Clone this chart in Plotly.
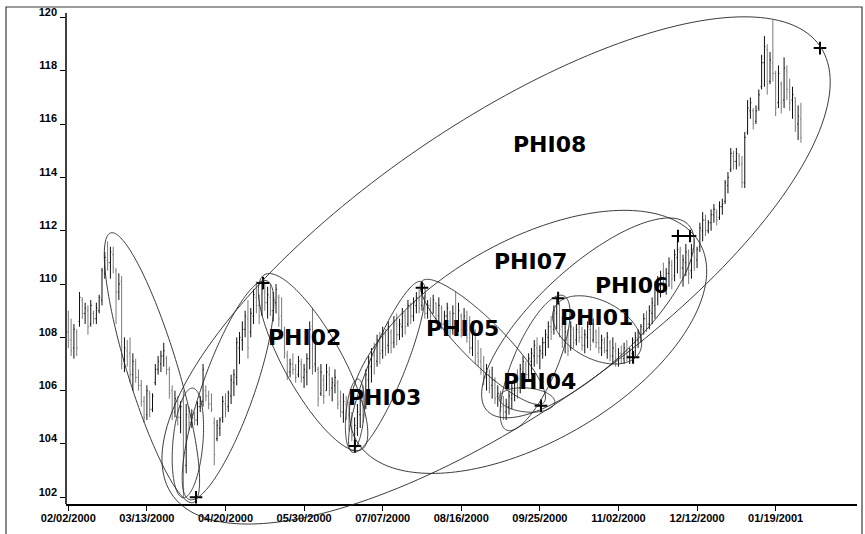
import numpy as np
import plotly.graph_objects as go

# x axis: one slot per trading day, a date label every 28 bars
tick_bars = [0, 28, 56, 84, 112, 140, 168, 196, 224, 252]
tick_dates = ["02/02/2000", "03/13/2000", "04/20/2000", "05/30/2000", "07/07/2000",
              "08/16/2000", "09/25/2000", "11/02/2000", "12/12/2000", "01/19/2001"]
price_ticks = [102, 104, 106, 108, 110, 112, 114, 116, 118, 120]

high = [109.0, 108.7, 108.5, 108.3, 109.7, 109.5, 109.3, 109.2, 109.4, 109.0,
        109.3, 109.6, 110.6, 111.2, 111.6, 111.4, 111.4, 110.6, 110.4, 110.3,
        108.0, 107.9, 108.0, 107.4, 107.2, 106.8, 106.4, 105.8, 106.2, 106.0,
        105.9, 107.0, 107.3, 107.5, 107.8, 107.3, 106.9, 106.2, 106.0, 105.8,
        105.6, 106.0, 105.5, 105.4, 105.3, 105.2, 105.6, 105.8, 107.0, 106.2,
        106.0, 105.9, 105.0, 104.9, 105.0, 105.8, 105.9, 106.0, 106.6, 106.8,
        108.0, 108.2, 108.6, 109.0, 109.4, 109.1, 109.8, 110.1, 109.6, 110.0,
        110.1, 109.9, 110.0, 109.7, 110.0, 109.6, 109.5, 108.4, 107.5, 107.2,
        107.4, 107.0, 107.3, 107.2, 107.0, 107.4, 108.6, 109.1, 108.2, 106.9,
        107.0, 106.6, 107.0, 106.9, 106.5, 106.8, 106.4, 106.0, 105.9, 105.8,
        105.6, 105.2, 105.0, 105.5, 106.0, 106.2, 106.8, 107.3, 107.6, 107.8,
        108.1, 108.2, 108.4, 108.3, 108.6, 108.3, 108.8, 108.9, 108.7, 109.1,
        109.0, 109.4, 109.3, 109.5, 109.7, 109.8, 109.9, 109.6, 109.4, 109.5,
        109.6, 109.3, 109.5, 109.2, 109.0, 109.3, 109.0, 109.2, 109.7, 109.3,
        108.9, 109.1, 109.0, 108.8, 108.6, 108.3, 107.9, 107.6, 107.3, 107.0,
        106.8, 106.9, 106.5, 106.2, 106.0, 105.8, 105.7, 106.0, 106.3, 106.6,
        106.8, 107.0, 107.3, 107.1, 107.4, 107.6, 107.9, 108.0, 107.7, 108.0,
        108.3, 108.6, 108.8, 109.2, 109.5, 109.3, 108.8, 108.5, 108.3, 108.6,
        108.4, 108.5, 108.7, 108.4, 108.3, 108.6, 108.5, 108.7, 108.3, 108.4,
        108.1, 108.0, 108.2, 107.9, 108.0, 107.8, 107.6, 107.7, 107.8, 107.9,
        107.6, 108.0, 108.2, 108.3, 108.5, 108.9, 109.0, 109.2, 109.5, 110.1,
        110.3, 110.5, 110.8, 110.6, 111.0, 110.9, 111.3, 111.6, 111.4, 111.1,
        111.5, 111.3, 111.5, 111.7, 111.4, 112.3, 112.7, 112.6, 112.4, 112.8,
        113.0, 112.8, 113.1, 113.2, 113.9, 114.2, 115.1, 115.0, 115.1, 114.9,
        114.8, 115.7, 116.9, 117.0, 116.6, 116.7, 117.3, 118.6, 119.3, 119.0,
        118.7, 119.9, 118.0, 118.2, 117.6, 118.5, 118.2, 117.7, 117.4, 117.0,
        116.7, 116.8]

low = [107.6, 107.3, 107.2, 107.3, 108.4, 108.7, 108.5, 108.1, 108.4, 108.5,
       108.5, 108.9, 109.2, 110.2, 110.5, 110.2, 110.4, 108.5, 109.4, 106.8,
       106.7, 106.9, 106.3, 106.0, 106.3, 106.0, 105.4, 104.8, 104.9, 105.0,
       105.2, 106.2, 106.6, 106.7, 106.9, 106.6, 105.7, 104.9, 105.0, 104.7,
       104.4, 102.0, 102.9, 104.5, 104.6, 104.7, 104.7, 105.2, 105.4, 105.6,
       105.3, 105.2, 103.2, 104.1, 104.3, 104.8, 105.0, 105.2, 105.5, 105.8,
       106.2, 107.0, 107.5, 108.0, 107.2, 108.0, 108.5, 108.9, 108.5, 108.8,
       109.0, 108.7, 108.8, 108.6, 108.9, 108.4, 108.0, 107.2, 106.4, 106.5,
       106.6, 106.3, 106.5, 106.3, 106.1, 106.2, 106.8, 106.6, 106.7, 105.4,
       105.8, 105.5, 106.0, 105.8, 105.6, 105.9, 105.3, 105.0, 104.8, 104.9,
       104.5, 104.1, 103.9, 104.3, 104.6, 104.8, 105.3, 105.7, 106.3, 106.6,
       106.9, 107.0, 107.2, 107.3, 107.4, 107.4, 107.6, 107.7, 107.9, 108.0,
       108.1, 108.4, 108.5, 108.6, 108.9, 108.9, 109.0, 108.7, 108.7, 108.6,
       108.9, 108.5, 108.6, 108.3, 108.2, 108.4, 108.0, 108.1, 108.3, 108.2,
       108.0, 108.1, 107.8, 107.4, 107.3, 107.0, 106.9, 106.6, 106.2, 106.0,
       105.9, 105.7, 105.5, 105.4, 105.2, 104.9, 104.9, 105.1, 105.3, 105.6,
       105.7, 105.9, 106.1, 106.3, 106.4, 106.6, 106.9, 107.0, 106.8, 107.2,
       107.3, 107.6, 107.9, 108.1, 108.3, 108.0, 107.6, 107.4, 107.3, 107.5,
       107.6, 107.7, 107.8, 107.5, 107.4, 107.6, 107.5, 107.8, 107.6, 107.4,
       107.3, 107.4, 107.2, 107.1, 107.0, 106.9, 106.9, 107.0, 107.0, 107.1,
       107.0, 107.1, 107.3, 107.6, 107.8, 108.1, 108.2, 108.3, 108.5, 108.7,
       109.2, 109.5, 109.7, 109.6, 109.9, 109.8, 110.1, 110.4, 110.2, 109.9,
       110.3, 110.0, 110.2, 110.5, 110.6, 111.2, 111.6, 111.8, 111.9, 112.0,
       112.3, 112.2, 112.4, 112.6, 113.0, 113.4, 114.2, 114.3, 114.3, 114.4,
       113.6, 113.6, 115.6, 116.2, 115.8, 116.0, 116.5, 117.3, 117.4, 117.1,
       117.5, 117.6, 116.3, 116.6, 116.4, 116.6, 116.9, 116.5, 116.2, 115.7,
       115.4, 115.3]

open_ = [108.2, 107.9, 107.6, 108.2, 108.6, 109.4, 108.9, 109.0, 108.5, 108.9,
         108.7, 109.0, 109.4, 110.4, 110.9, 110.8, 111.1, 110.5, 109.7, 110.1,
         107.1, 107.5, 107.4, 106.6, 107.0, 106.5, 106.2, 105.6, 105.1, 105.9,
         105.3, 106.3, 106.8, 107.0, 107.3, 107.2, 106.8, 106.0, 105.2, 105.6,
         105.0, 105.6, 103.2, 105.0, 104.8, 105.0, 104.9, 105.4, 105.6, 106.0,
         105.8, 105.5, 104.8, 104.2, 104.6, 105.0, 105.5, 105.4, 105.8, 106.3,
         106.5, 107.6, 107.9, 108.3, 108.7, 108.2, 108.8, 109.5, 109.2, 108.9,
         109.7, 109.3, 109.5, 109.0, 109.3, 109.5, 108.8, 108.2, 107.3, 106.7,
         107.0, 106.8, 106.6, 107.0, 106.5, 106.7, 107.2, 108.4, 107.0, 106.8,
         105.9, 106.4, 106.0, 106.6, 106.1, 106.2, 106.3, 105.6, 105.2, 105.5,
         105.1, 104.8, 104.3, 104.6, 105.1, 105.6, 105.4, 106.4, 106.9, 107.3,
         107.1, 107.8, 107.5, 108.1, 107.7, 108.2, 107.8, 108.5, 108.1, 108.4,
         108.8, 108.5, 109.1, 108.8, 109.2, 109.4, 109.2, 109.5, 108.9, 109.2,
         108.9, 109.3, 108.8, 109.1, 108.5, 108.8, 108.9, 108.3, 108.9, 108.5,
         108.8, 108.3, 108.7, 108.1, 107.6, 108.1, 107.4, 107.1, 106.9, 106.5,
         106.6, 106.2, 106.4, 105.8, 105.9, 105.4, 105.2, 105.4, 105.7, 106.0,
         106.3, 106.1, 106.7, 107.0, 106.6, 107.1, 107.3, 107.6, 107.3, 107.4,
         107.8, 108.0, 108.4, 108.3, 108.9, 109.2, 108.4, 107.9, 108.1, 107.6,
         108.3, 107.9, 108.2, 108.0, 107.7, 108.0, 108.3, 107.9, 108.2, 107.8,
         107.6, 107.8, 107.5, 107.8, 107.3, 107.5, 107.2, 107.4, 107.2, 107.5,
         107.3, 107.4, 107.8, 107.9, 108.1, 108.3, 108.7, 108.5, 108.9, 109.2,
         109.8, 109.9, 110.2, 110.0, 110.4, 110.7, 110.3, 111.0, 111.2, 110.6,
         110.8, 111.1, 110.5, 111.2, 110.9, 111.4, 112.0, 112.4, 112.0, 112.3,
         112.6, 112.7, 112.5, 112.9, 113.1, 113.7, 114.3, 114.8, 114.6, 114.8,
         114.5, 113.8, 115.7, 116.5, 116.5, 116.1, 116.6, 117.4, 118.3, 118.8,
         117.6, 118.3, 117.9, 116.8, 117.5, 116.9, 118.0, 117.2, 116.9, 117.0,
         116.0, 116.2]

close = [107.9, 107.5, 108.3, 107.6, 109.5, 108.9, 109.1, 108.4, 109.2, 108.7,
         109.1, 109.5, 110.5, 111.0, 110.8, 111.2, 110.6, 109.7, 110.0, 107.0,
         107.6, 107.3, 106.6, 107.1, 106.5, 106.2, 105.6, 105.0, 106.0, 105.3,
         105.8, 106.8, 107.1, 107.3, 107.5, 106.8, 105.9, 105.2, 105.7, 105.0,
         105.4, 102.3, 105.1, 104.8, 105.1, 104.9, 105.4, 105.6, 106.8, 105.8,
         105.5, 105.3, 103.6, 104.7, 104.9, 105.6, 105.3, 105.9, 106.4, 106.6,
         107.8, 108.0, 108.3, 108.8, 107.6, 108.9, 109.6, 109.2, 108.8, 109.8,
         109.3, 109.6, 109.0, 109.4, 109.8, 108.7, 108.2, 107.4, 106.7, 107.0,
         106.8, 106.5, 107.1, 106.5, 106.8, 107.2, 108.3, 106.9, 107.8, 105.7,
         106.7, 105.8, 106.7, 106.0, 106.3, 106.5, 105.5, 105.2, 105.6, 105.0,
         104.7, 104.3, 104.7, 105.2, 105.8, 105.1, 106.6, 107.0, 107.4, 107.0,
         107.9, 107.4, 108.2, 107.6, 108.4, 107.8, 108.6, 108.1, 108.5, 108.9,
         108.4, 109.2, 108.8, 109.3, 109.5, 109.1, 109.7, 108.9, 109.2, 108.8,
         109.4, 108.7, 109.2, 108.5, 108.8, 109.1, 108.2, 108.9, 108.5, 109.0,
         108.3, 108.8, 108.0, 107.6, 108.2, 107.3, 107.1, 106.8, 106.5, 106.7,
         106.1, 106.4, 105.7, 105.9, 105.4, 105.2, 105.5, 105.8, 106.1, 106.4,
         106.0, 106.8, 107.1, 106.6, 107.2, 107.4, 107.7, 107.3, 107.5, 107.8,
         108.1, 108.4, 108.2, 109.0, 109.3, 108.3, 107.8, 108.2, 107.5, 108.4,
         107.8, 108.3, 108.0, 107.7, 108.1, 108.4, 107.7, 108.5, 107.8, 107.6,
         107.9, 107.5, 108.0, 107.3, 107.6, 107.1, 107.4, 107.2, 107.6, 107.3,
         107.5, 107.9, 108.0, 108.2, 108.4, 108.7, 108.5, 109.0, 109.3, 109.9,
         110.0, 110.3, 110.0, 110.4, 110.8, 110.2, 111.1, 111.3, 110.6, 110.9,
         111.2, 110.4, 111.3, 111.0, 111.3, 112.1, 112.4, 112.0, 112.3, 112.6,
         112.8, 112.4, 112.9, 113.0, 113.8, 114.0, 114.9, 114.6, 114.9, 114.5,
         113.8, 115.5, 116.6, 116.8, 116.0, 116.5, 117.1, 118.3, 118.9, 117.5,
         118.4, 117.9, 116.6, 117.9, 116.8, 118.1, 117.3, 116.8, 117.1, 115.9,
         116.3, 115.5]

bars = list(range(len(high)))

# pivot crosses (bar slot, price)
pivot_bar = [45.5, 69.4, 102.1, 126.0, 168.4, 174.5, 201.2, 217.2, 221.5, 267.8]
pivot_price = [102.0, 110.04, 103.92, 109.86, 105.43, 109.47, 107.25, 111.8, 111.8, 118.85]

# ellipse labels
phi_names = ["PHI08", "PHI07", "PHI06", "PHI01", "PHI05", "PHI02", "PHI04", "PHI03"]
phi_bar = [171.6, 164.8, 200.5, 188.0, 140.6, 84.0, 167.7, 112.8]
phi_price = [115.22, 110.83, 109.93, 108.73, 108.35, 108.01, 106.36, 105.76]

# ellipses: centre (bar slot, price), half axes in screen px, tilt in degrees
ell_bar = [29.8, 42.6, 56.9, 87.2, 113.5, 102.1, 147.7, 166.3, 163.4, 188.4, 185.1, 163.8, 152.4]
ell_price = [106.86, 104.04, 106.02, 107.07, 106.89, 105.09, 107.83, 107.04, 105.65, 108.28, 108.73, 107.83, 110.51]
ell_a = [141, 55, 116, 100, 92, 36, 86, 73, 28, 48, 137, 198, 394]
ell_b = [25, 15, 26, 29, 18, 9, 21, 22, 12, 29, 50, 100, 144]
ell_tilt = [-73, 85, 70.5, -61, 68, 85, -45, 67, -5, -28, 42.7, 30, 34.7]

W, H = 865, 534
ML, MR, MT, MB = 66, 8, 0, 30
PW, PH = W - ML - MR, H - MT - MB
XR = [-0.82, 280.98]
YR = [101.749, 120.654]
LABEL_LIFT = 0.21  # price labels sit a little above their tick marks
AXIS_TOP = 13      # px from the top where the price axis line starts


def ellipse_path(cx, cy, a, b, tilt):
    t = np.linspace(0, 2 * np.pi, 200)
    th = np.radians(tilt)
    u, v = a * np.cos(t), b * np.sin(t)
    dx = u * np.cos(th) - v * np.sin(th)
    dy = u * np.sin(th) + v * np.cos(th)
    px = (cx - XR[0]) / (XR[1] - XR[0]) + dx / PW
    py = (cy - YR[0]) / (YR[1] - YR[0]) + dy / PH
    return "M" + " L".join(f"{x:.5f},{y:.5f}" for x, y in zip(px, py)) + " Z"


fig = go.Figure()

fig.add_trace(go.Ohlc(
    x=bars, open=open_, high=high, low=low, close=close,
    increasing=dict(line=dict(color="#0f0f0f", width=1)),
    decreasing=dict(line=dict(color="#7a7a7a", width=1)),
    tickwidth=0.35, showlegend=False, hoverinfo="skip",
))

fig.add_trace(go.Scatter(
    x=pivot_bar, y=pivot_price, mode="markers",
    marker=dict(symbol="cross-thin", size=9, line=dict(color="black", width=2)),
    cliponaxis=False, showlegend=False, hoverinfo="skip",
))

# empty trace so the label axis gets drawn
fig.add_trace(go.Scatter(x=[None], y=[None], yaxis="y2", showlegend=False, hoverinfo="skip"))

shapes = []
for cx, cy, a, b, tl in zip(ell_bar, ell_price, ell_a, ell_b, ell_tilt):
    shapes.append(dict(type="path", xref="paper", yref="paper", layer="above",
                       path=ellipse_path(cx, cy, a, b, tl),
                       line=dict(color="#262626", width=0.9)))

# price axis line (starts a little below the plot top), strip above the frame, outer frame
shapes.append(dict(type="line", xref="paper", yref="paper", layer="above",
                   x0=0, x1=0, y0=0, y1=(PH - AXIS_TOP) / PH,
                   line=dict(color="black", width=1.5)))
shapes.append(dict(type="rect", xref="paper", yref="paper", layer="above",
                   x0=-0.1, x1=1.02, y0=(MT + PH - 7.5) / PH, y1=(MT + PH + 2) / PH,
                   fillcolor="white", line=dict(width=0)))
shapes.append(dict(type="rect", xref="paper", yref="paper", layer="above",
                   x0=(6 - ML) / PW, x1=(862 - ML) / PW,
                   y0=-(545 - MT - PH) / PH, y1=(MT + PH - 7) / PH,
                   line=dict(color="#3a3a3a", width=1.2)))

annotations = [dict(x=bx, y=py, text=name, showarrow=False, xref="x", yref="y",
                    font=dict(family="DejaVu Sans", size=22, color="black", weight="bold"))
               for name, bx, py in zip(phi_names, phi_bar, phi_price)]

tick_font = dict(family="Liberation Sans", size=11, color="black", weight="bold")

fig.update_layout(
    width=W, height=H,
    margin=dict(l=ML, r=MR, t=MT, b=MB),
    paper_bgcolor="white", plot_bgcolor="white",
    shapes=shapes, annotations=annotations,
    showlegend=False,
    yaxis2=dict(
        overlaying="y", side="left", range=YR, showgrid=False, zeroline=False,
        showline=False, ticks="", tickmode="array",
        tickvals=[v + LABEL_LIFT for v in price_ticks], ticktext=[str(v) for v in price_ticks],
        tickfont=tick_font, ticklabelstandoff=8, automargin=False,
    ),
)
fig.update_xaxes(
    range=XR, rangeslider_visible=False, showgrid=False, zeroline=False,
    showline=True, linecolor="black", linewidth=1.5,
    tickmode="array", tickvals=tick_bars, ticktext=tick_dates,
    ticks="outside", ticklen=5, tickcolor="black", tickfont=tick_font,
    ticklabelstandoff=-2, automargin=False,
)
fig.update_layout(yaxis=dict(
    range=YR, showgrid=False, zeroline=False, showline=False,
    tickmode="array", tickvals=price_ticks, showticklabels=False,
    ticks="outside", ticklen=5, tickcolor="black", automargin=False,
))

# page body has a default 8px margin; drop it so the figure sits at the window origin
fig.write_html("out.html", config={"displayModeBar": False},
               post_script="document.body.style.margin='0';")
